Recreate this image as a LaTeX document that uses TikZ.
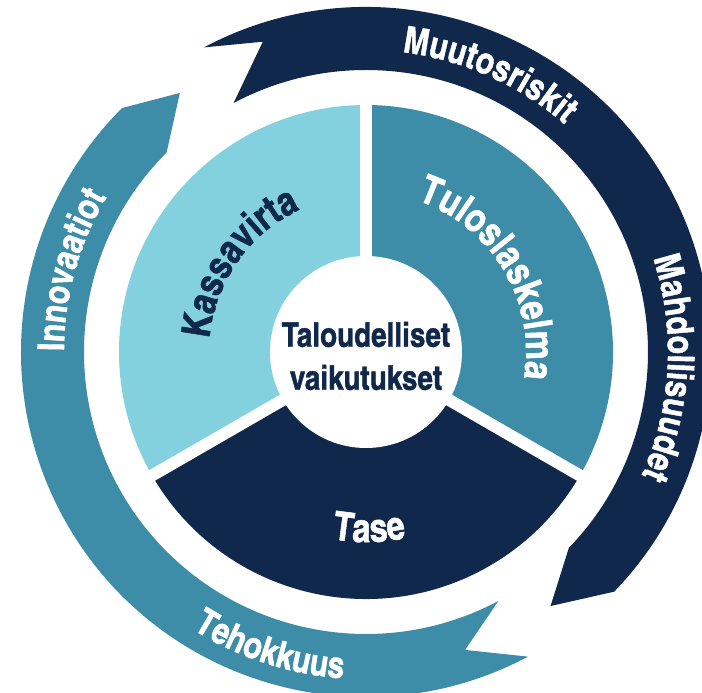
\documentclass[tikz,border=0pt]{standalone}
\usepackage{fontspec}
\usetikzlibrary{decorations.text}
\newfontfamily\condfont{texgyreheroscn-bold.otf}[FakeBold=1.2]
\newcommand\ringstyle{\condfont\fontsize{37}{40}\selectfont}
\newcommand\piestyle{\condfont\fontsize{40}{44}\selectfont}
\definecolor{taloNavy}{HTML}{10284B}
\definecolor{taloTeal}{HTML}{3D8DA8}
\definecolor{taloLight}{HTML}{83D0DF}

\begin{document}
\begin{tikzpicture}[x=1pt,y=1pt,
  ringtext/.style={decorate,decoration={text along path,text align=center,
      text color=white,text={|\ringstyle|#1}}},
  pietext/.style n args={2}{decorate,decoration={text along path,text align=center,
      text color=#1,text={|\piestyle|#2}}}]
  \useasboundingbox (-366,-341) rectangle (336,352);

%% three statements
  \fill[taloLight] (0,0) -- (90:247) arc[start angle=90,end angle=210,radius=247] -- cycle;
  \fill[taloTeal] (0,0) -- (-30:247) arc[start angle=-30,end angle=90,radius=247] -- cycle;
  \fill[taloNavy] (0,0) -- (210:247) arc[start angle=210,end angle=330,radius=247] -- cycle;
  \foreach \a in {90,210,330}
    \draw[white,line width=12] (0,0) -- (\a:260);
  \fill[white] (0,0) circle(96);

%% outer arrows, clockwise
  \fill[taloNavy] (118:345) arc[start angle=118,end angle=-44,radius=345]
    -- (-54:314) -- (-44:282) arc[start angle=-44,end angle=118,radius=282]
    -- (108.4:327) -- cycle;
  \fill[taloTeal] (-62:345) arc[start angle=-62,end angle=-225,radius=345]
    -- (-234.3:319) -- (-225:282) arc[start angle=-225,end angle=-62,radius=282]
    -- (-71.6:314) -- cycle;

%% ring labels
  \path[ringtext=Muutosriskit] (126:302) arc[start angle=126,end angle=6,radius=302];
  \path[ringtext=Mahdollisuudet] (57:302) arc[start angle=57,end angle=-63,radius=302];
  \path[ringtext=Innovaatiot] (224.5:302) arc[start angle=224.5,end angle=104.5,radius=302];
  \path[ringtext=Tehokkuus] (192:327) arc[start angle=192,end angle=312,radius=327];

%% pie labels
  \path[pietext={taloNavy}{Kassavirta}] (205:157) arc[start angle=205,end angle=85,radius=157];
  \path[pietext={white}{Tuloslaskelma}] (91:160) arc[start angle=91,end angle=-29,radius=160];
  \path[pietext={white}{Tase}] (211:190) arc[start angle=211,end angle=331,radius=190];

  \node[font=\condfont\fontsize{34}{43}\selectfont,text=taloNavy,align=center]
    (centre) at (0,-4) {Taloudelliset\\vaikutukset};
\end{tikzpicture}
\end{document}
